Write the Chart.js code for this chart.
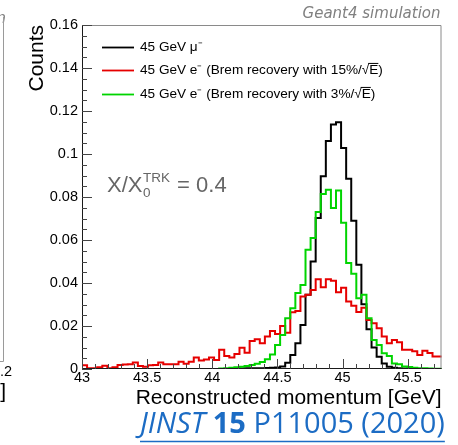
<!DOCTYPE html>
<html>
<head>
<meta charset="utf-8">
<script src="https://cdn.jsdelivr.net/npm/chart.js@4.4.1/dist/chart.umd.min.js"></script>
<style>
  html, body { margin: 0; padding: 0; background: #fff; }
  #wrap { width: 458px; height: 445px; position: relative; }
</style>
</head>
<body>
<div id="wrap"><canvas id="c" width="458" height="445"></canvas></div>
<script>
// Histogram binning (GeV)
const binStart = 43.0;
const binWidth = 0.039;

// Normalised counts per bin
const muon45 = [
  0, 0, 0, 0, 0, 0, 0, 0, 0, 0,
  0, 0, 0, 0, 0, 0, 0, 0, 0, 0,
  0, 0, 0, 0, 0, 0, 0, 0, 0, 0,
  0, 0.0002, 0.0002, 0.0003, 0.0003, 0.0004, 0.0004, 0.0005, 0.0006, 0.0007,
  0.0012, 0.0029, 0.0065, 0.0120, 0.0205, 0.0345, 0.0500, 0.0702, 0.0896, 0.1060,
  0.1137, 0.1148, 0.1028, 0.0885, 0.0690, 0.0485, 0.0301, 0.0185, 0.0100, 0.0057,
  0.0026, 0.0011, 0.0006, 0.0003, 0.0002, 0.0001, 0.0001, 0, 0, 0,
  0
];
const electronBrem15 = [
  0.0011, 0.0017, 0.0003, 0.0003, 0.0008, 0.0015, 0.0003, 0.0008, 0.0019, 0.0021,
  0.0022, 0.0030, 0.0014, 0.0010, 0.0018, 0.0019, 0.0030, 0.0022, 0.0022, 0.0022,
  0.0034, 0.0024, 0.0034, 0.0054, 0.0039, 0.0044, 0.0053, 0.0042, 0.0089, 0.0061,
  0.0054, 0.0070, 0.0099, 0.0076, 0.0130, 0.0138, 0.0120, 0.0151, 0.0177, 0.0163,
  0.0200, 0.0169, 0.0264, 0.0270, 0.0337, 0.0345, 0.0368, 0.0418, 0.0380, 0.0418,
  0.0410, 0.0357, 0.0378, 0.0314, 0.0294, 0.0265, 0.0285, 0.0228, 0.0213, 0.0190,
  0.0151, 0.0120, 0.0135, 0.0125, 0.0089, 0.0090, 0.0083, 0.0065, 0.0085, 0.0075,
  0.0058
];
const electronBrem3 = [
  0, 0, 0, 0, 0, 0, 0, 0, 0, 0,
  0, 0, 0, 0, 0, 0, 0, 0, 0, 0,
  0, 0, 0, 0, 0, 0, 0, 0, 0.0002, 0.0004,
  0.0006, 0.0008, 0.0011, 0.0014, 0.0019, 0.0025, 0.0033, 0.0045, 0.0068, 0.0112,
  0.0158, 0.0236, 0.0283, 0.0353, 0.0391, 0.0555, 0.0609, 0.0730, 0.0814, 0.0834,
  0.0749, 0.0830, 0.0680, 0.0493, 0.0443, 0.0329, 0.0345, 0.0236, 0.0135, 0.0112,
  0.0073, 0.0061, 0.0026, 0.0022, 0.0012, 0.0009, 0.0006, 0.0004, 0.0003, 0.0002,
  0.0001
];

const seriesLabels = [
  '45 GeV \u03bc\u207b',
  '45 GeV e\u207b (Brem recovery with 15%/\u221aE)',
  '45 GeV e\u207b (Brem recovery with 3%/\u221aE)'
];
const seriesColors = ['#000000', '#e60000', '#00d400'];

const xRange = [43, 45.76];
const yRange = [0, 0.16];
const xTickValues = [43, 43.5, 44, 44.5, 45, 45.5];
const xTickLabels = ['43', '43.5', '44', '44.5', '45', '45.5'];
const yTickValues = [0, 0.02, 0.04, 0.06, 0.08, 0.1, 0.12, 0.14, 0.16];
const yTickLabels = ['0', '0.02', '0.04', '0.06', '0.08', '0.1', '0.12', '0.14', '0.16'];
const xMinorStep = 0.1, xMajorEvery = 5;
const yMinorStep = 0.005, yMajorEvery = 4;

const FONT = "'Liberation Sans', Arial, Helvetica, sans-serif";
Chart.defaults.font.family = FONT;

// Outline of a histogram: one point per bin edge, held flat across each bin
function histSteps(counts) {
  const pts = counts.map((v, i) => ({ x: binStart + i * binWidth, y: v }));
  pts.push({ x: binStart + counts.length * binWidth, y: counts[counts.length - 1] });
  return pts;
}

// Frame with inward-pointing ticks (left and bottom axes)
const framePlugin = {
  id: 'frame',
  afterDatasetsDraw(chart) {
    const { ctx, chartArea: { left, right, top, bottom } } = chart;
    const xs = chart.scales.x, ys = chart.scales.y;
    ctx.save();
    ctx.lineWidth = 1;
    ctx.strokeStyle = '#8a8a8a';
    ctx.beginPath();
    ctx.moveTo(left, top + 0.5); ctx.lineTo(right - 0.5, top + 0.5);
    ctx.lineTo(right - 0.5, bottom);
    ctx.stroke();
    ctx.strokeStyle = '#1a1a1a';
    ctx.beginPath();
    ctx.moveTo(left + 0.5, top); ctx.lineTo(left + 0.5, bottom - 0.5);
    ctx.lineTo(right, bottom - 0.5);
    ctx.stroke();
    ctx.strokeStyle = '#444';
    ctx.beginPath();
    for (let i = 0; ; i++) {
      const v = ys.min + i * yMinorStep;
      if (v > ys.max + 1e-9) break;
      const py = Math.round(ys.getPixelForValue(v)) + 0.5;
      const len = i % yMajorEvery === 0 ? 10 : 5;
      ctx.moveTo(left, py); ctx.lineTo(left + len, py);
    }
    for (let i = 0; ; i++) {
      const v = xs.min + i * xMinorStep;
      if (v > xs.max + 1e-9) break;
      const px = Math.round(xs.getPixelForValue(v)) + 0.5;
      const len = i % xMajorEvery === 0 ? 10 : 5;
      ctx.moveTo(px, bottom); ctx.lineTo(px, bottom - len);
    }
    ctx.stroke();
    ctx.restore();
  }
};

// Legend box in the upper left of the plot
const legendPlugin = {
  id: 'histLegend',
  afterDraw(chart) {
    const { ctx, chartArea: { left, top } } = chart;
    ctx.save();
    const size = 13.6;
    ctx.font = size + 'px ' + FONT;
    ctx.textBaseline = 'middle';
    ctx.textAlign = 'left';
    chart.data.datasets.forEach((ds, i) => {
      const y = Math.round(top + 21.7 + i * 23.7) + 0.5;
      ctx.strokeStyle = ds.borderColor;
      ctx.lineWidth = 1.8;
      ctx.beginPath();
      ctx.moveTo(left + 20, y); ctx.lineTo(left + 52, y);
      ctx.stroke();
      const tx = left + 58;
      ctx.fillStyle = '#000';
      ctx.fillText(ds.label, tx, y);
      const k = ds.label.indexOf('\u221a');
      if (k >= 0) {
        const x0 = tx + ctx.measureText(ds.label.slice(0, k + 1)).width - 1;
        const w = ctx.measureText('E').width + 1;
        ctx.strokeStyle = '#000';
        ctx.lineWidth = 1;
        ctx.beginPath();
        ctx.moveTo(x0, y - size * 0.52); ctx.lineTo(x0 + w, y - size * 0.52);
        ctx.stroke();
      }
    });
    ctx.restore();
  }
};

// Material budget note, header and reference line
const notesPlugin = {
  id: 'notes',
  afterDraw(chart) {
    const { ctx, chartArea: { left, top, right } } = chart;
    ctx.save();
    // X/X0^TRK = 0.4
    ctx.fillStyle = '#666';
    ctx.textBaseline = 'alphabetic';
    ctx.textAlign = 'left';
    let x = left + 25;
    const base = top + 167;
    ctx.font = '22px ' + FONT;
    ctx.fillText('X/X', x, base);
    x += ctx.measureText('X/X').width + 0.5;
    ctx.font = '13.5px ' + FONT;
    ctx.fillText('0', x, base + 4.5);
    ctx.fillText('TRK', x, base - 10);
    x += ctx.measureText('TRK').width + 1;
    ctx.font = '22px ' + FONT;
    ctx.fillText(' = 0.4', x, base);

    // Header
    ctx.fillStyle = '#808080';
    ctx.font = "italic 15px 'DejaVu Sans', Verdana, sans-serif";
    ctx.textAlign = 'right';
    ctx.fillText('Geant4 simulation', right - 1, 18);

    // Edge of the neighbouring panel
    ctx.fillText('Geant4 simulation', 6, 23);
    ctx.font = '14.5px ' + FONT;
    ctx.fillStyle = '#000';
    ctx.textBaseline = 'middle';
    ctx.fillText('0.2', 12, 372);
    ctx.font = '21px ' + FONT;
    ctx.fillText('[GeV]', 6, 392);
    ctx.strokeStyle = '#9a9a9a';
    ctx.lineWidth = 1;
    ctx.beginPath();
    ctx.moveTo(3.5, 17); ctx.lineTo(3.5, 361.5); ctx.lineTo(0, 361.5);
    ctx.stroke();

    // Journal reference
    const blue = '#1c6cc4';
    const parts = [
      { t: 'JINST', f: 'italic ' },
      { t: ' ', f: '' },
      { t: '15', f: 'bold ' },
      { t: ' P11005 (2020)', f: '' }
    ];
    const fam = "'Open Sans', 'Liberation Sans', sans-serif";
    let total = 0;
    parts.forEach(p => { ctx.font = p.f + '24px ' + fam; total += ctx.measureText(p.t).width; });
    const fs = 24 * 305 / total;
    ctx.fillStyle = blue;
    ctx.textAlign = 'left';
    ctx.textBaseline = 'alphabetic';
    let jx = 140;
    parts.forEach(p => {
      ctx.font = p.f + fs.toFixed(2) + 'px ' + fam;
      ctx.fillText(p.t, jx, 433);
      jx += ctx.measureText(p.t).width;
    });
    ctx.strokeStyle = blue;
    ctx.lineWidth = 1.5;
    ctx.beginPath();
    ctx.moveTo(140, 441.5); ctx.lineTo(jx, 441.5);
    ctx.stroke();
    ctx.restore();
  }
};

const seriesData = [muon45, electronBrem15, electronBrem3];

new Chart(document.getElementById('c').getContext('2d'), {
  type: 'line',
  data: {
    datasets: seriesData.map((counts, i) => ({
      label: seriesLabels[i],
      data: histSteps(counts),
      borderColor: seriesColors[i],
      borderWidth: 2,
      stepped: 'after',
      pointRadius: 0,
      fill: false,
      clip: 0,
      order: 3 - i
    }))
  },
  options: {
    responsive: false,
    animation: false,
    devicePixelRatio: 1,
    layout: { padding: { left: 0, right: 16.5, top: 25, bottom: 0 } },
    plugins: { legend: { display: false }, tooltip: { enabled: false } },
    scales: {
      x: {
        type: 'linear',
        min: xRange[0], max: xRange[1],
        afterBuildTicks: s => { s.ticks = xTickValues.map(v => ({ value: v })); },
        afterFit: s => { s.height = 76; },
        grid: { display: false, drawTicks: false },
        border: { display: false },
        ticks: {
          autoSkip: false, maxRotation: 0, padding: 0, color: '#000',
          font: { size: 14.5 },
          callback: v => xTickLabels[xTickValues.indexOf(v)]
        },
        title: {
          display: true, text: 'Reconstructed momentum [GeV]', align: 'end',
          color: '#000', font: { size: 21 }, padding: { top: 0, bottom: 34.4 }
        }
      },
      y: {
        min: yRange[0], max: yRange[1],
        afterBuildTicks: s => { s.ticks = yTickValues.map(v => ({ value: v })); },
        afterFit: s => { s.width = 82; },
        grid: { display: false, drawTicks: false },
        border: { display: false },
        ticks: {
          padding: 4, color: '#000',
          font: { size: 14.5 },
          callback: v => yTickLabels[yTickValues.indexOf(v)]
        },
        title: {
          display: true, text: 'Counts', align: 'end',
          color: '#000', font: { size: 21 }, padding: { top: 24.4, bottom: 0 }
        }
      }
    }
  },
  plugins: [framePlugin, legendPlugin, notesPlugin]
});
</script>
</body>
</html>
